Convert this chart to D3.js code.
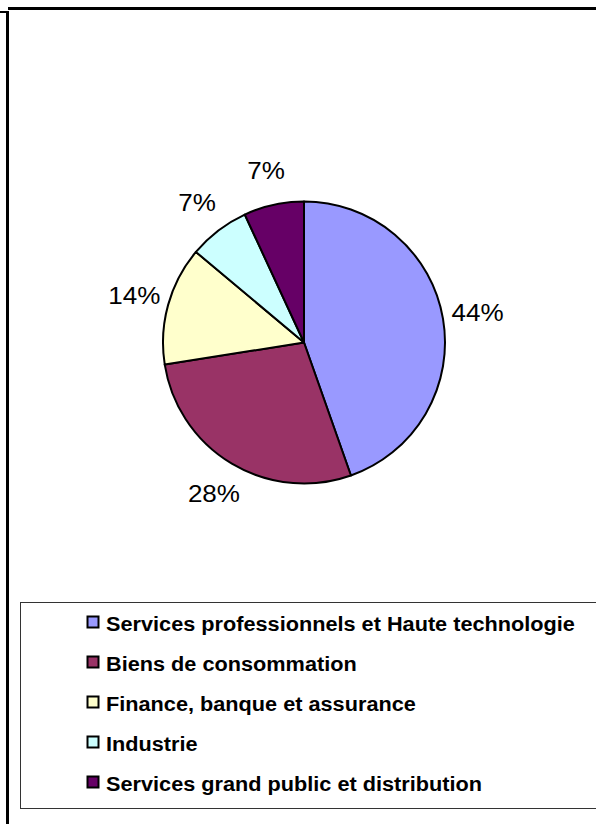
<!DOCTYPE html>
<head>
    <style>
        body { margin: 0; background: #fff; }
        text { font-family: "Liberation Sans", Arial, sans-serif; }
    </style>
</head>
<body>
    <script src="https://d3js.org/d3.v7.min.js"></script>
    <script>
        const width = 596;
        const height = 824;

        // data
        const sectors = ["Services professionnels et Haute technologie", "Biens de consommation", "Finance, banque et assurance", "Industrie", "Services grand public et distribution"];
        const shares = [44.6, 27.9, 13.6, 7.0, 6.9];
        const labels = ["44%", "28%", "14%", "7%", "7%"];
        const colors = ["#9999FF", "#993366", "#FFFFCC", "#CCFFFF", "#660066"];

        const cx = 304, cy = 342.5, r = 141;
        const labelR = 176;
        const stretch = 1.085; // text in the original is a bit wider than Arial

        const svg = d3.select("body").append("svg").attr("width", width).attr("height", height);
        svg.append("rect").attr("width", width).attr("height", height).attr("fill", "#fff");

        // frame lines of the cell
        svg.append("rect").attr("x", 8).attr("y", 7).attr("width", width - 8).attr("height", 3).attr("fill", "#000");
        svg.append("rect").attr("x", 6).attr("y", 11).attr("width", 3).attr("height", height - 11).attr("fill", "#000");
        svg.append("rect").attr("x", 0).attr("y", 11).attr("width", 6).attr("height", 2).attr("fill", "#000");

        const pie = d3.pie().sort(null).value(d => d)
        const arcs = pie(shares);
        const arc = d3.arc().innerRadius(0).outerRadius(r);
        const labelArc = d3.arc().innerRadius(labelR).outerRadius(labelR);

        const g = svg.append("g").attr("transform", `translate(${cx},${cy})`);
        g.selectAll("path").data(arcs).enter().append("path")
            .attr("d", arc)
            .attr("fill", (d, i) => colors[i])
            .attr("stroke", "#000")
            .attr("stroke-width", 2)
            .attr("stroke-linejoin", "round");

        g.selectAll("text.lbl").data(arcs).enter().append("text")
            .attr("class", "lbl")
            .attr("transform", d => {
                const c = labelArc.centroid(d);
                return `translate(${c[0]},${c[1] + 8.5}) scale(${stretch},1)`;
            })
            .attr("text-anchor", "middle")
            .attr("font-size", 24)
            .attr("fill", "#000")
            .text((d, i) => labels[i]);

        // legend
        svg.append("rect").attr("x", 20.5).attr("y", 602.5).attr("width", 620).attr("height", 206)
            .attr("fill", "none").attr("stroke", "#333").attr("stroke-width", 1);

        const leg = svg.append("g");
        const row = d3.scaleBand().domain(sectors).range([602, 802]);
        const items = leg.selectAll("g").data(sectors).enter().append("g")
            .attr("transform", d => `translate(0,${row(d) + row.bandwidth() / 2})`);
        items.append("rect")
            .attr("x", 87.5).attr("y", -5.5).attr("width", 11).attr("height", 11)
            .attr("fill", (d, i) => colors[i])
            .attr("stroke", "#000").attr("stroke-width", 2);
        items.append("text")
            .attr("transform", `translate(106,9) scale(${stretch},1)`)
            .attr("font-size", 20).attr("font-weight", "bold")
            .attr("fill", "#000")
            .text(d => d);
    </script>
</body>
</html>
